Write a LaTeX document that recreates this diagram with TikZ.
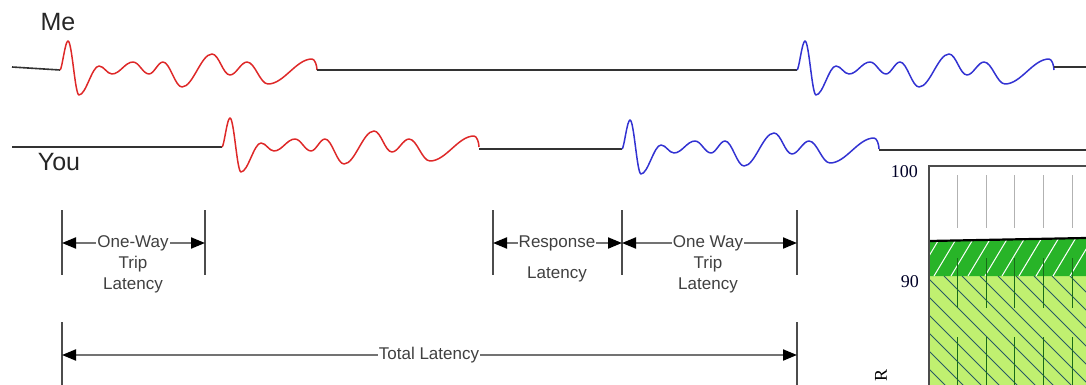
\documentclass[tikz,border=0pt]{standalone}
\usepackage{fontspec}
\setmainfont{Liberation Sans}
\newfontfamily\chartfont{Liberation Serif}
\usetikzlibrary{arrows.meta,positioning}

\definecolor{wavered}{RGB}{222,40,40}
\definecolor{waveblue}{RGB}{50,50,210}
\definecolor{darkband}{RGB}{40,180,40}
\definecolor{lightband}{RGB}{192,240,112}
\definecolor{hatchline}{RGB}{40,90,100}

% one echo of a ping, starting at (#1,#2)
\newcommand{\drawwave}[3]{%
  \draw[sigwave,#3,shift={(#1,#2)}] (0,0)
    .. controls +(2,0) and +(-3,0) .. (8,-29)
    .. controls +(4,0) and +(-4,0) .. (19,25)
    .. controls +(7,0) and +(-7,0) .. (39,-4)
    .. controls +(5,0) and +(-5,0) .. (52,4)
    .. controls +(8,0) and +(-8,0) .. (73,-8)
    .. controls +(6,0) and +(-6,0) .. (89,4)
    .. controls +(5,0) and +(-5,0) .. (103,-8)
    .. controls +(7,0) and +(-7,0) .. (122,17)
    .. controls +(11,0) and +(-11,0) .. (152,-16)
    .. controls +(7,0) and +(-7,0) .. (170,5)
    .. controls +(6,0) and +(-6,0) .. (187,-8)
    .. controls +(8,0) and +(-8,0) .. (208,14)
    .. controls +(16,0) and +(-16,0) .. (252,-11)
    .. controls +(3,0) and +(0,-4) .. (257,0);}

\begin{document}
\begin{tikzpicture}[x=1pt,y=-1pt,
          sig/.style={draw=black!80,line width=1.6pt},
          sigwave/.style={line width=1.5pt,line join=round},
          bar/.style={draw=black!70,line width=1.4pt},
          dim/.style={draw=black!55,line width=2pt,{Triangle[length=14pt,width=11pt,color=black]}-{Triangle[length=14pt,width=11pt,color=black]}},
          lab/.style={font=\fontsize{17}{20}\selectfont,text=black!75,inner sep=1pt,text height=12pt,text depth=4pt},
          onarrow/.style={lab,fill=white},
          who/.style={font=\fontsize{25}{30}\selectfont,text=black!85,inner sep=0pt},
          ticklab/.style={font=\chartfont\fontsize{18}{20}\selectfont,text=black!85!blue,inner sep=0pt,anchor=east},
          node distance=21pt
        ]
        \useasboundingbox (0,0) rectangle (1086,385);

        %signals
        \node[who] (me) at (58,22) {Me};
        \node[who] (you) at (59,162) {You};
        \draw[sig] (12,67) -- (60,70);
        \drawwave{60}{70}{wavered}
        \draw[sig] (317,70) -- (797,70);
        \drawwave{797}{70}{waveblue}
        \draw[sig] (1054,67) -- (1086,67);
        \draw[sig] (12,147) -- (222,147);
        \drawwave{222}{147}{wavered}
        \draw[sig] (479,149) -- (622,149);
        \drawwave{622}{149}{waveblue}
        \draw[sig] (879,150) -- (1086,150);

        %bars
        \foreach \x/\n in {62/a,205/b,493/c,622/d,797/e}{
          \draw[bar] (\x,210) -- (\x,275);
          \coordinate (\n) at (\x,243);
        }
        \draw[bar] (62,322) -- (62,385);
        \draw[bar] (797,322) -- (797,385);
        \coordinate (ta) at (62,355);
        \coordinate (tb) at (797,355);
        \path
        (a) edge[dim] (b)
        (c) edge[dim] (d)
        (d) edge[dim] (e)
        (ta) edge[dim] (tb)
        ;

        %labels
        \node[onarrow] (ow1) at (133,243) {One-Way};
        \node[lab,below of = ow1] (trip1) {Trip};
        \node[lab,below of = trip1] (lat1) {Latency};
        \node[onarrow] (resp) at (557,243) {Response};
        \node[lab,below of = resp,node distance=31pt] (lat2) {Latency};
        \node[onarrow] (ow2) at (708,243) {One Way};
        \node[lab,below of = ow2] (trip2) {Trip};
        \node[lab,below of = trip2] (lat3) {Latency};
        \node[onarrow] (total) at (429,355) {Total Latency};

        %chart
        \fill[lightband] (929,276) rectangle (1086,385);
        \fill[darkband] (929,241) -- (1086,238) -- (1086,276) -- (929,276) -- cycle;
        \begin{scope}
          \clip (929,276) rectangle (1086,385);
          \foreach \x in {0,18,...,270} \draw[hatchline,line width=0.9pt] (\x+818,276) -- ++(110,110);
        \end{scope}
        \begin{scope}
          \clip (929,241) -- (1086,238) -- (1086,276) -- (929,276) -- cycle;
          \foreach \x in {0,17,...,200} \draw[white,line width=1pt] (\x+900,276) -- ++(24,-40);
        \end{scope}
        \foreach \x in {957,986,1014,1043,1072}{
          \draw[black!30,line width=0.8pt] (\x,175) -- (\x,228);
          \draw[darkband!60!black,line width=0.8pt] (\x,258) -- (\x,308) (\x,337) -- (\x,385);
        }
        \draw[black,line width=2.2pt] (929,241) -- (1086,238);
        \draw[black!70,line width=2pt] (929,385) -- (929,166) -- (1086,166);
        \node[ticklab] (t100) at (918,172) {100};
        \node[ticklab] (t90) at (919,282) {90};
        \node[rotate=90,font=\chartfont\fontsize{18}{20}\selectfont,inner sep=0pt] (rlab) at (881,375) {R};
    \end{tikzpicture}
\end{document}
